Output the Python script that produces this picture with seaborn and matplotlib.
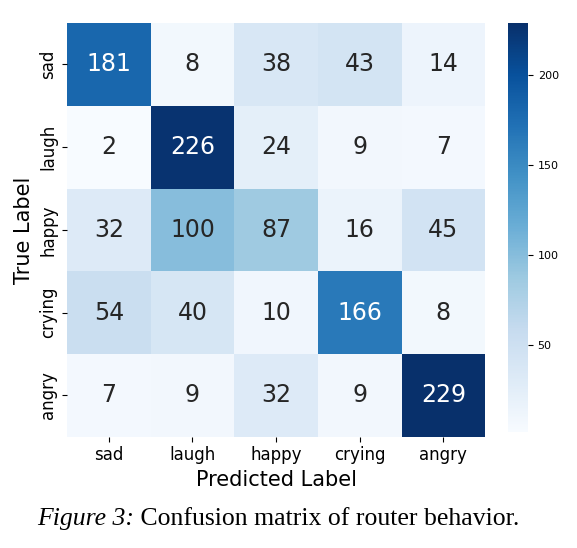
import numpy as np
import pandas as pd
import matplotlib
matplotlib.use("Agg")
import matplotlib.pyplot as plt
import seaborn as sns

labels = ["sad", "laugh", "happy", "crying", "angry"]
row_sad = [181, 8, 38, 43, 14]
row_laugh = [2, 226, 24, 9, 7]
row_happy = [32, 100, 87, 16, 45]
row_crying = [54, 40, 10, 166, 8]
row_angry = [7, 9, 32, 9, 229]

cm = pd.DataFrame([row_sad, row_laugh, row_happy, row_crying, row_angry],
                  index=labels, columns=labels)

fig = plt.figure(figsize=(5.77, 5.48), dpi=100)
ax = fig.add_axes([0.116, 0.203, 0.725, 0.755])
cax = fig.add_axes([0.880, 0.212, 0.035, 0.746])

sns.heatmap(cm, annot=True, fmt="d", cmap="Blues", ax=ax, cbar_ax=cax,
            annot_kws={"fontsize": 17})

ax.set_xlabel("Predicted Label", fontsize=15)
ax.set_ylabel("True Label", fontsize=15)
ax.tick_params(axis="both", labelsize=12)
ax.set_yticklabels(labels, rotation=90, va="center")
cax.tick_params(labelsize=8)
cax.set_yticks([50, 100, 150, 200])

# caption: italic prefix + regular text, centred together
t1 = fig.text(0, 0.053, "Figure 3:", ha="left", va="center", fontsize=18.5,
              family="Liberation Serif", style="italic")
t2 = fig.text(0, 0.053, " Confusion matrix of router behavior.", ha="left", va="center",
              fontsize=18.5, family="Liberation Serif")
fig.canvas.draw()
r = fig.canvas.get_renderer()
w1 = t1.get_window_extent(r).width
w2 = t2.get_window_extent(r).width
W = fig.bbox.width
x0 = (W - w1 - w2) / 2 - 10
t1.set_x(x0 / W)
t2.set_x((x0 + w1) / W)

fig.savefig("out.png", dpi=100)
